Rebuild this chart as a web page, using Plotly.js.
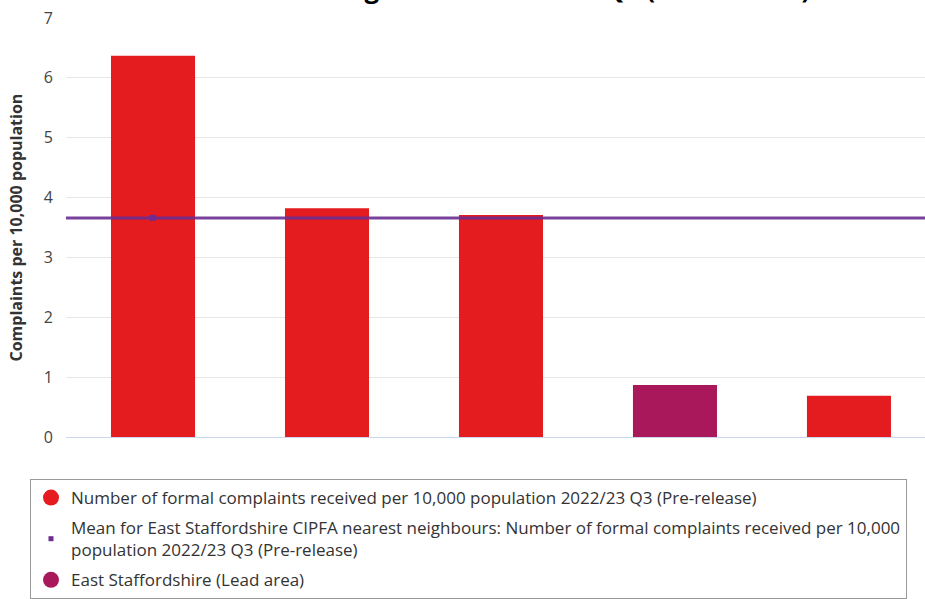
<!DOCTYPE html>
<html>
<head>
<meta charset="utf-8">
<script src="https://cdn.plot.ly/plotly-3.0.1.min.js"></script>
<style>html,body{margin:0;padding:0;background:#fff;overflow:hidden}#chart{width:925px;height:599px}</style>
</head>
<body>
<div id="chart"></div>
<script>
// Data
var categories = ["Neighbour A", "Neighbour B", "Neighbour C", "East Staffordshire", "Neighbour D"];
var complaintsValues = [6.37, 3.82, 3.71, null, 0.69];
var leadValues = [null, null, null, 0.87, null];
var meanValue = 3.66;
var yTicks = [0, 1, 2, 3, 4, 5, 6, 7];

var seriesName = "Number of formal complaints received per 10,000 population 2022/23 Q3 (Pre-release)";
var meanName = "Mean for East Staffordshire CIPFA nearest neighbours: Number of formal complaints received per 10,000<br>population 2022/23 Q3 (Pre-release)";
var leadName = "East Staffordshire (Lead area)";
var yTitle = "Complaints per 10,000 population";
var titleText = "Formal complaints: East Staffordshire CIPFA nearest neighbours \u2013 2022/23 Q3 (Pre-release)";

var RED = "#e41b1f", LEAD = "#a8185a", PURPLE = "#6c2c91";
var xIdx = categories.map(function(_, i){ return i; });

var traces = [
  {type: "bar", x: xIdx, y: complaintsValues, marker: {color: RED}, width: 0.483, showlegend: false, hoverinfo: "y"},
  {type: "bar", x: xIdx, y: leadValues, marker: {color: LEAD}, width: 0.483, showlegend: false, hoverinfo: "y"},
  {type: "scatter", mode: "lines", x: [-0.5, 4.437], y: [meanValue, meanValue], line: {color: PURPLE, width: 3}, opacity: 0.9, showlegend: false, hoverinfo: "skip"},
  {type: "scatter", mode: "markers", x: [0], y: [meanValue], marker: {color: PURPLE, size: 6, symbol: "square"}, showlegend: false, hoverinfo: "y"},
  // legend entries
  {type: "scatter", mode: "markers", x: [null], y: [null], name: seriesName, legendgroup: "a", marker: {color: RED, size: 16, symbol: "circle"}},
  {type: "scatter", mode: "markers", x: [null], y: [null], name: meanName, legendgroup: "b", marker: {color: PURPLE, size: 5, symbol: "square"}},
  {type: "scatter", mode: "markers", x: [null], y: [null], name: leadName, legendgroup: "c", marker: {color: LEAD, size: 16, symbol: "circle"}}
];

var layout = {
  width: 925, height: 599,
  margin: {l: 66, r: 0, t: 18, b: 162, pad: 0, autoexpand: false},
  paper_bgcolor: "#fff", plot_bgcolor: "#fff",
  font: {family: "Open Sans, sans-serif", color: "#333"},
  barmode: "overlay",
  xaxis: {range: [-0.5, 4.437], showticklabels: false, showgrid: false, zeroline: false,
          showline: false, ticks: "", fixedrange: true, automargin: false},
  yaxis: {range: [0, 7], tickvals: yTicks, ticktext: yTicks.map(String), automargin: false,
          gridcolor: "#e6e6e6", gridwidth: 1, zeroline: true, zerolinecolor: "#ccd6eb", zerolinewidth: 1,
          tickfont: {size: 16, color: "#444"}, ticks: "outside", ticklen: 9, tickcolor: "rgba(0,0,0,0)"},
  legend: {xref: "container", yref: "container", x: 30/925, y: 1 - 479/599, xanchor: "left", yanchor: "top",
           bordercolor: "#999", borderwidth: 1, bgcolor: "#fff",
           font: {size: 17, color: "#333"}, itemsizing: "trace", tracegroupgap: 5},
  annotations: [{
    xref: "paper", yref: "paper", x: (812-66)/(925-66), y: 1, xanchor: "right", yanchor: "bottom",
    yshift: 10, text: "<b>" + titleText + "</b>", showarrow: false,
    font: {size: 26, color: "#000"}
  }, {
    xref: "paper", yref: "paper", x: 0, y: 0.5, xanchor: "center", yanchor: "middle",
    xshift: -51, textangle: -90, text: "<b>" + yTitle + "</b>", showarrow: false,
    font: {size: 16, color: "#333"}
  }],
  showlegend: true
};

Plotly.newPlot("chart", traces, layout, {displayModeBar: false, staticPlot: true});
</script>
</body>
</html>
